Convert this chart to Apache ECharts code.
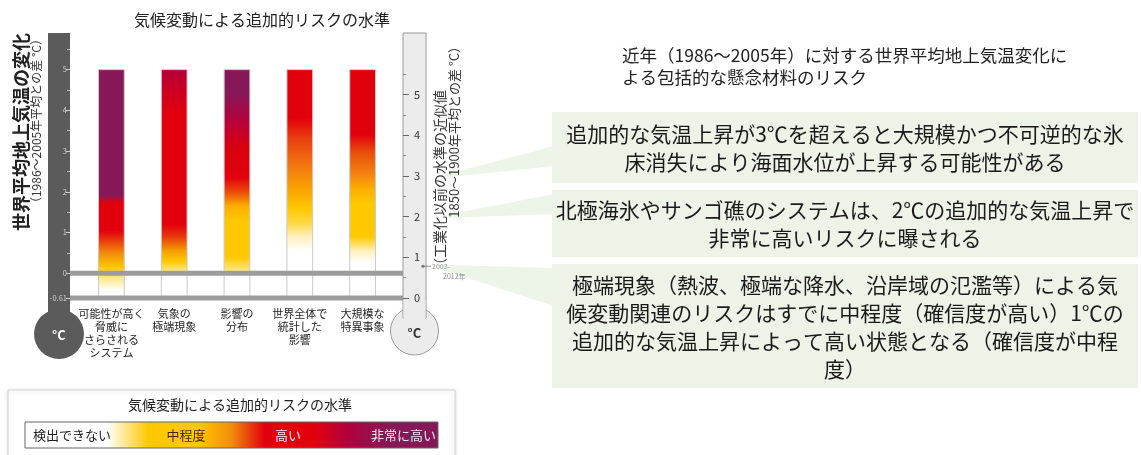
<!DOCTYPE html>
<html>
<head>
<meta charset="utf-8">
<script src="https://cdn.jsdelivr.net/npm/echarts@6/dist/echarts.min.js"></script>
<style>
  html, body { margin: 0; padding: 0; background: #ffffff; }
  #chart { width: 1141px; height: 455px; }
</style>
</head>
<body>
<div id="chart"></div>
<script>
// Reasons for concern (x-axis categories)
const categories = [
  '可能性が高く\n脅威に\nさらされる\nシステム',
  '気象の\n極端現象',
  '影響の\n分布',
  '世界全体で\n統計した\n影響',
  '大規模な\n特異事象'
];

// Temperature span covered by every risk bar (°C vs. 1986–2005)
const barTop = 5;
const barBottom = -0.61;

// Risk level colours
const riskNone = '#ffffff';
const riskPale = '#ffe98c';
const riskModerate = '#ffc800';
const riskOrange = '#f28c0c';
const riskHigh = '#e2000c';
const riskCrimson = '#b2003c';
const riskVeryHigh = '#871858';

// Colour transitions along each bar: [°C vs. 1986–2005, colour]
const stopsUniqueSystems = [
  [-0.61, riskNone], [-0.42, riskNone], [-0.12, riskPale], [0.15, riskModerate],
  [0.5, riskOrange], [0.85, '#e8300c'], [1.05, riskHigh], [1.72, riskHigh],
  [1.92, riskVeryHigh], [5, riskVeryHigh]
];
const stopsExtremeWeather = [
  [-0.61, riskNone], [0, riskNone], [0.05, riskPale], [0.3, riskModerate],
  [0.55, '#f5a000'], [0.9, '#e83a0c'], [1.2, riskHigh], [3.9, riskHigh],
  [4.4, '#d0001e'], [5, riskCrimson]
];
const stopsDistribution = [
  [-0.61, riskNone], [0, riskNone], [0.05, riskPale], [0.4, riskModerate],
  [1.3, riskModerate], [1.65, '#fbae00'], [2.0, '#ec4a08'], [2.35, riskHigh],
  [3.1, '#d8000e'], [3.7, '#b8003a'], [4.4, riskVeryHigh], [5, riskVeryHigh]
];
const stopsAggregate = [
  [-0.61, riskNone], [0.55, riskNone], [0.9, '#fff0c0'], [1.25, '#ffd640'],
  [1.6, riskModerate], [2.0, '#faa800'], [2.6, '#f27a10'], [3.3, '#ea4010'],
  [3.8, riskHigh], [5, riskHigh]
];
const stopsSingularEvents = [
  [-0.61, riskNone], [0.25, riskNone], [0.55, '#fff0c0'], [0.9, riskModerate],
  [1.7, riskModerate], [2.05, '#fbb000'], [2.45, '#f48010'], [2.95, '#e8500c'],
  [3.4, riskHigh], [5, riskHigh]
];
const riskStops = [stopsUniqueSystems, stopsExtremeWeather, stopsDistribution, stopsAggregate, stopsSingularEvents];

// Axis ticks: left axis vs. 1986–2005, right axis vs. 1850–1900
const leftTicks = [-0.61, 0, 1, 2, 3, 4, 5];
const leftMinorTicks = [0.5, 1.5, 2.5, 3.5, 4.5, 5.5];
const rightTicks = [0, 1, 2, 3, 4, 5];
const rightMinorTicks = [0.5, 1.5, 2.5, 3.5, 4.5, 5.5];
const baselineOffset = 0.61;
const leftMax = 5.9;

// Baselines drawn across the chart (°C vs. 1986–2005)
const referenceLines = [0, -0.61];

// Observed 2003–2012 warming (°C vs. 1850–1900)
const recentWarming = 0.78;
const recentLabel = ['2003-', '2012年'];

// Callout levels on the right axis and their notes
const calloutLevels = [3, 2, 0.78];
const calloutTexts = [
  '追加的な気温上昇が3℃を超えると大規模かつ不可逆的な氷\n床消失により海面水位が上昇する可能性がある',
  '北極海氷やサンゴ礁のシステムは、2℃の追加的な気温上昇で\n非常に高いリスクに曝される',
  '極端現象（熱波、極端な降水、沿岸域の氾濫等）による気\n候変動関連のリスクはすでに中程度（確信度が高い）1℃の\n追加的な気温上昇によって高い状態となる（確信度が中程\n度）'
];

// Legend scale
const legendLabels = ['検出できない', '中程度', '高い', '非常に高い'];
const legendStops = [
  [0, riskNone], [0.2, riskNone], [0.3, riskModerate], [0.42, riskModerate],
  [0.5, riskOrange], [0.58, riskHigh], [0.7, riskHigh], [0.78, riskCrimson],
  [0.88, riskVeryHigh], [1, riskVeryHigh]
];

const FONT = '"Noto Sans CJK JP", "Noto Sans", sans-serif';
const chart = echarts.init(document.getElementById('chart'), null, { renderer: 'canvas' });

// Layout of the note boxes and wedge bases
const boxes = [
  { y: 112, h: 71 },
  { y: 190, h: 67 },
  { y: 264, h: 124 }
];
const boxLeft = 552, boxRight = 1138;
const wedgeBases = [[146, 166], [194, 214], [268, 306]];

function renderBar(params, api) {
  const i = api.value(0);
  const hi = api.value(1), lo = api.value(2);
  const pTop = api.coord([i, hi]);
  const pBottom = api.coord([i, lo]);
  const w = api.size([1, 0])[0] * 0.41;
  const span = hi - lo;
  const colorStops = riskStops[i]
    .map(([t, c]) => ({ offset: Math.min(1, Math.max(0, (hi - t) / span)), color: c }))
    .sort((a, b) => a.offset - b.offset);
  return {
    type: 'rect',
    shape: { x: pTop[0] - w / 2, y: pTop[1], width: w, height: pBottom[1] - pTop[1] },
    style: {
      fill: new echarts.graphic.LinearGradient(0, 0, 0, 1, colorStops),
      stroke: '#cacaca',
      lineWidth: 1
    }
  };
}

function renderReferenceLine(params, api) {
  const y = api.coord([0, api.value(1)])[1];
  const cs = params.coordSys;
  return {
    type: 'rect',
    shape: { x: cs.x - 10, y: y - 2.5, width: cs.width + 19, height: 5 },
    style: { fill: '#9c9c9c' }
  };
}

function renderRecentMarker(params, api) {
  const y = api.coord([0, api.value(1)])[1];
  const cs = params.coordSys;
  const x0 = cs.x + cs.width + 29;
  return {
    type: 'group',
    children: [
      { type: 'line', shape: { x1: x0, y1: y, x2: x0 + 8, y2: y }, style: { stroke: '#888', lineWidth: 1 } },
      { type: 'circle', shape: { cx: x0, cy: y, r: 1.6 }, style: { fill: '#777' } },
      { type: 'text', x: x0 + 9, y: y, style: { text: recentLabel[0], fill: '#999', font: '7px ' + FONT, verticalAlign: 'middle' } },
      { type: 'text', x: x0 + 20, y: y + 10, style: { text: recentLabel[1], fill: '#888', font: '7px ' + FONT, verticalAlign: 'middle' } }
    ]
  };
}

function renderWedge(params, api) {
  const y = api.coord([0, api.value(1)])[1];
  const idx = params.dataIndex;
  const tipX = idx === 2 ? 436 : 446;
  const base = wedgeBases[idx];
  return {
    type: 'polygon',
    shape: { points: [[tipX, y - 1.5], [boxLeft + 2, base[0]], [boxLeft + 2, base[1]], [tipX, y + 1.5]] },
    style: { fill: '#edf4e8' }
  };
}

const graphics = [];

// Left thermometer (dark)
graphics.push(
  { type: 'rect', z: 1, shape: { x: 48, y: 33, width: 22, height: 292 }, style: { fill: '#5b5b5b' } },
  { type: 'circle', z: 1, shape: { cx: 59, cy: 334, r: 25 }, style: { fill: '#5b5b5b' } },
  { type: 'text', z: 12, x: 59, y: 335, style: { text: '°C', fill: '#ffffff', font: 'bold 13px ' + FONT, align: 'center', verticalAlign: 'middle' } }
);
// Right thermometer (light)
graphics.push(
  { type: 'circle', z: 1, shape: { cx: 414.5, cy: 331, r: 24 }, style: { fill: '#ececec', stroke: '#9a9a9a', lineWidth: 1 } },
  { type: 'rect', z: 1, shape: { x: 403, y: 33, width: 23, height: 285 }, style: { fill: '#ececec', stroke: '#9a9a9a', lineWidth: 1 } },
  { type: 'rect', z: 1, shape: { x: 403.6, y: 300, width: 21.8, height: 20 }, style: { fill: '#ececec' } },
  { type: 'text', z: 12, x: 414.5, y: 333, style: { text: '°C', fill: '#333333', font: 'bold 13px ' + FONT, align: 'center', verticalAlign: 'middle' } }
);

// Chart title
graphics.push({ type: 'text', z: 12, x: 262, y: 20, style: { text: '気候変動による追加的リスクの水準', fill: '#222', font: '16px ' + FONT, align: 'center', verticalAlign: 'middle' } });

// Axis names (rotated)
graphics.push(
  { type: 'text', z: 12, x: 21, y: 33, rotation: Math.PI / 2, style: { text: '世界平均地上気温の変化', fill: '#222', font: 'bold 18px ' + FONT, align: 'right', verticalAlign: 'middle' } },
  { type: 'text', z: 12, x: 36, y: 33, rotation: Math.PI / 2, style: { text: '（1986～2005年平均との差 °C）', fill: '#333', font: '12px ' + FONT, align: 'right', verticalAlign: 'middle' } },
  { type: 'text', z: 12, x: 440, y: 90, rotation: Math.PI / 2, style: { text: '（工業化以前の水準の近似値', fill: '#333', font: '14px ' + FONT, align: 'right', verticalAlign: 'middle' } },
  { type: 'text', z: 12, x: 454, y: 40, rotation: Math.PI / 2, style: { text: '1850～1900年平均との差 °C）', fill: '#333', font: '13px ' + FONT, align: 'right', verticalAlign: 'middle' } }
);

// Header of the notes
graphics.push({
  type: 'text', z: 12, x: 622, y: 44,
  style: { text: '近年（1986～2005年）に対する世界平均地上気温変化に\nよる包括的な懸念材料のリスク', fill: '#222', font: '17.5px ' + FONT, lineHeight: 22, align: 'left', verticalAlign: 'top' }
});

// Note boxes
boxes.forEach((b, i) => {
  graphics.push(
    { type: 'rect', z: 2, shape: { x: boxLeft, y: b.y, width: boxRight - boxLeft, height: b.h }, style: { fill: '#edf3e7' } },
    { type: 'text', z: 12, x: (boxLeft + boxRight) / 2, y: b.y + b.h / 2 + 1,
      style: { text: calloutTexts[i], fill: '#1a1a1a', font: '21px ' + FONT, lineHeight: 28, align: 'center', verticalAlign: 'middle' } }
  );
});

// Legend panel
graphics.push(
  { type: 'rect', z: 2, shape: { x: 8, y: 390, width: 447, height: 70 }, style: { fill: '#ffffff', stroke: '#d4d4d4', lineWidth: 1, shadowBlur: 4, shadowColor: 'rgba(0,0,0,0.15)', shadowOffsetY: 1 } },
  { type: 'text', z: 12, x: 240, y: 405, style: { text: '気候変動による追加的リスクの水準', fill: '#222', font: '14px ' + FONT, align: 'center', verticalAlign: 'middle' } },
  { type: 'rect', z: 3, shape: { x: 25, y: 422, width: 413, height: 26 },
    style: { fill: new echarts.graphic.LinearGradient(0, 0, 1, 0, legendStops.map(([o, c]) => ({ offset: o, color: c }))), stroke: '#666', lineWidth: 1 } },
  { type: 'text', z: 12, x: 33, y: 435, style: { text: legendLabels[0], fill: '#222', font: '13px ' + FONT, align: 'left', verticalAlign: 'middle' } },
  { type: 'text', z: 12, x: 186, y: 435, style: { text: legendLabels[1], fill: '#3a2800', font: '13px ' + FONT, align: 'center', verticalAlign: 'middle' } },
  { type: 'text', z: 12, x: 288, y: 435, style: { text: legendLabels[2], fill: '#fff3f3', font: '13px ' + FONT, align: 'center', verticalAlign: 'middle' } },
  { type: 'text', z: 12, x: 436, y: 435, style: { text: legendLabels[3], fill: '#f6e6ee', font: '13px ' + FONT, align: 'right', verticalAlign: 'middle' } }
);

const option = {
  animation: false,
  textStyle: { fontFamily: FONT },
  grid: { left: 80, right: 747, top: 33, bottom: 157, containLabel: false },
  xAxis: {
    type: 'category',
    data: categories,
    axisLine: { show: false },
    axisTick: { show: false },
    splitLine: { show: false },
    axisLabel: { interval: 0, fontSize: 11, lineHeight: 13, color: '#1f1f1f', margin: 9, fontFamily: FONT }
  },
  yAxis: [
    {
      type: 'value', position: 'left', offset: 10, min: barBottom, max: leftMax, z: 10,
      axisLine: { show: false }, splitLine: { show: false },
      axisTick: { show: true, inside: false, length: 4, customValues: leftTicks, lineStyle: { color: '#d0d0d0' } },
      axisLabel: { customValues: leftTicks, color: '#d2d2d2', fontSize: 7.5, margin: 3, formatter: v => String(v) }
    },
    {
      type: 'value', position: 'right', offset: 9, min: 0, max: leftMax + baselineOffset, z: 10,
      axisLine: { show: false }, splitLine: { show: false },
      axisTick: { show: true, inside: false, length: 6, customValues: rightTicks, lineStyle: { color: '#666' } },
      axisLabel: { customValues: rightTicks, color: '#333', fontSize: 11, margin: 11, formatter: v => String(v) }
    },
    {
      type: 'value', position: 'left', offset: 10, min: barBottom, max: leftMax, z: 10,
      axisLine: { show: false }, splitLine: { show: false },
      axisTick: { show: true, inside: false, length: 3, customValues: leftMinorTicks, lineStyle: { color: '#bdbdbd' } },
      axisLabel: { show: false }
    },
    {
      type: 'value', position: 'right', offset: 9, min: 0, max: leftMax + baselineOffset, z: 10,
      axisLine: { show: false }, splitLine: { show: false },
      axisTick: { show: true, inside: false, length: 3, customValues: rightMinorTicks, lineStyle: { color: '#888' } },
      axisLabel: { show: false }
    }
  ],
  series: [
    {
      type: 'custom', name: 'risk', z: 3, clip: false,
      renderItem: renderBar,
      encode: { x: 0, y: [1, 2] },
      data: categories.map((_, i) => [i, barTop, barBottom])
    },
    {
      type: 'custom', name: 'baselines', z: 4, clip: false,
      renderItem: renderReferenceLine,
      encode: { x: 0, y: 1 },
      data: referenceLines.map(v => [0, v])
    },
    {
      type: 'custom', name: 'callouts', yAxisIndex: 1, z: 1, clip: false,
      renderItem: renderWedge,
      encode: { x: 0, y: 1 },
      data: calloutLevels.map(v => [0, v])
    },
    {
      type: 'custom', name: 'recent', yAxisIndex: 1, z: 5, clip: false,
      renderItem: renderRecentMarker,
      encode: { x: 0, y: 1 },
      data: [[0, recentWarming]]
    }
  ],
  graphic: { elements: graphics }
};

chart.setOption(option);
</script>
</body>
</html>
